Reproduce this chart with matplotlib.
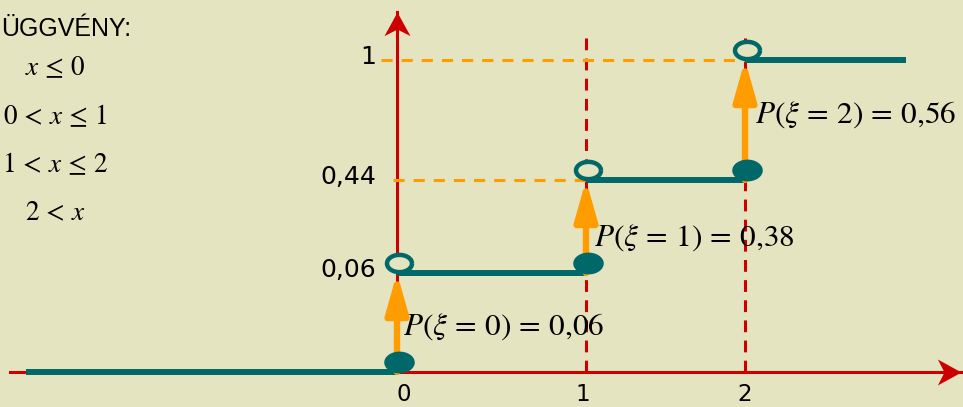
import matplotlib
matplotlib.use('Agg')
import matplotlib.pyplot as plt
import numpy as np
from matplotlib.path import Path
from matplotlib.transforms import offset_copy

# ---- data ----
x_vals = [0, 1, 2]                    # values of xi
cdf_levels = [0, 0.06, 0.44, 1]       # F(x) on each interval
probs = [0.06, 0.38, 0.56]            # P(xi = k)
x_tick_labels = ['0', '1', '2']
y_tick_labels = ['0,06', '0,44', '1']
x_left, x_right = -2, 3               # where the step lines end
header_text = 'ÜGGVÉNY:'
cond_texts = [r'$x\,\leq\,0$', r'$0\,<\,x\,\leq\,1$',
              r'$1\,<\,x\,\leq\,2$', r'$2\,<\,x$']

# ---- colours ----
BG = '#e4e4c0'
RED = '#cc0000'
TEAL = '#006868'
ORANGE = '#ff9c00'

plt.rcParams['mathtext.fontset'] = 'stix'
plt.rcParams['lines.scale_dashes'] = False

W, H = 963, 407
fig = plt.figure(figsize=(W / 100, H / 100), dpi=100)
fig.patch.set_facecolor(BG)
ax = fig.add_axes([0, 0, 1, 1])
ax.axis('off')

# the sketch is not to scale: piecewise linear axes (value -> pixel)
X_KNOTS = [-4, 0, 1, 2, 5]
X_PIX = [397 - 4 * 185.5, 397, 586, 745, 745 + 3 * 161]
Y_KNOTS = [-2, 0, 0.06, 0.44, 1, 3]
Y_PIX = [35 - 200, 35, 134, 227, 347, 547]

fx = lambda v: np.interp(v, X_KNOTS, X_PIX)
ix = lambda p: np.interp(p, X_PIX, X_KNOTS)
fy = lambda v: np.interp(v, Y_KNOTS, Y_PIX)
iy = lambda p: np.interp(p, Y_PIX, Y_KNOTS)
ax.set_xscale('function', functions=(fx, ix))
ax.set_yscale('function', functions=(fy, iy))
ax.set_xlim(ix(0), ix(W))
ax.set_ylim(iy(0), iy(H))

# ---- axes with notched arrow heads ----
head = Path([(0, 0), (-1, 0.55), (-0.72, 0), (-1, -0.55), (0, 0)],
            [Path.MOVETO, Path.LINETO, Path.LINETO, Path.LINETO, Path.CLOSEPOLY])
head_up = Path([(0, 0), (0.55, -1), (0, -0.72), (-0.55, -1), (0, 0)], head.codes)

x_tip, y_tip = ix(961), iy(395)
ax.plot([ix(10), x_tip], [0, 0], color=RED, lw=2.2, zorder=1)
ax.plot([x_tip], [0], marker=head, ms=34, color=RED, mec=RED, mew=0, zorder=1)
ax.plot([0, 0], [0, y_tip], color=RED, lw=2.2, zorder=1)
ax.plot([0], [y_tip], marker=head_up, ms=34, color=RED, mec=RED, mew=0, zorder=1)

# red dashed verticals
for xv in x_vals[1:]:
    ax.plot([xv, xv], [0, iy(374)], color=RED, lw=2.2, dashes=(8.5, 6), zorder=2)

# orange dashed guides to the y axis
guide_start = [-0.02, -0.085]
for k in range(1, 3):
    ax.plot([guide_start[k - 1], x_vals[k]], [cdf_levels[k + 1]] * 2,
            color=ORANGE, lw=2.2, dashes=(8, 6.5), zorder=2)

# ---- step function ----
edges = [x_left] + x_vals + [x_right]
for i, lev in enumerate(cdf_levels):
    ax.plot([edges[i], edges[i + 1]], [lev, lev], color=TEAL, lw=4.3,
            solid_capstyle='butt', zorder=3)

# jump arrows
for k, xv in enumerate(x_vals):
    ax.annotate('', xy=(xv, cdf_levels[k + 1]), xytext=(xv, cdf_levels[k]),
                arrowprops=dict(arrowstyle='-|>,head_length=24,head_width=6.8',
                                mutation_scale=1, color=ORANGE, lw=4.6,
                                shrinkA=0, shrinkB=0),
                zorder=4)

# dots (sit on top of the line)
t = np.linspace(0, 2 * np.pi, 60)
dot_fill = Path(np.column_stack([1.4 * np.cos(t), np.sin(t)]))
dot_open = Path(np.column_stack([1.45 * np.cos(t), np.sin(t)]))
lift = offset_copy(ax.transData, fig=fig, x=1.5, y=7.2, units='points')
ax.plot(x_vals, cdf_levels[:3], ls='none', marker=dot_fill, ms=22,
        color=TEAL, mew=0, transform=lift, zorder=5)
ax.plot(x_vals, cdf_levels[1:], ls='none', marker=dot_open, ms=18,
        mfc=BG, mec=TEAL, mew=3.2, transform=lift, zorder=5)

# ---- texts ----
label_off = [(4, 27), (6, 20), (7, 41)]
for k, (xv, p) in enumerate(zip(x_vals, probs)):
    txt = r'$P(\xi\,=\,%d)\,=\,%s$' % (xv, ('%.2f' % p).replace('.', '{,}'))
    ax.annotate(txt, xy=(xv, cdf_levels[k]), xytext=label_off[k],
                textcoords='offset points', fontsize=22.5, ha='left',
                va='baseline', zorder=6)

xt_off = [5, -2, 0]
for xv, lab, dx in zip(x_vals, x_tick_labels, xt_off):
    ax.annotate(lab, xy=(xv, 0), xytext=(dx, -24.3), textcoords='offset points',
                fontsize=16.5, ha='center', va='bottom')

for lev, lab in zip(cdf_levels[1:], y_tick_labels):
    ax.annotate(lab, xy=(0, lev), xytext=(-15, 2), textcoords='offset points',
                fontsize=18, ha='right', va='center')

fig.text(1 / W, 1 - 29 / H, header_text, fontsize=18, family='Liberation Sans',
         ha='left', va='center')
for i, s in enumerate(cond_texts):
    fig.text(55 / W, 1 - (68 + 48.5 * i) / H, s, fontsize=19.5, ha='center',
             va='center')

fig.savefig('out.png', dpi=100, facecolor=BG)
